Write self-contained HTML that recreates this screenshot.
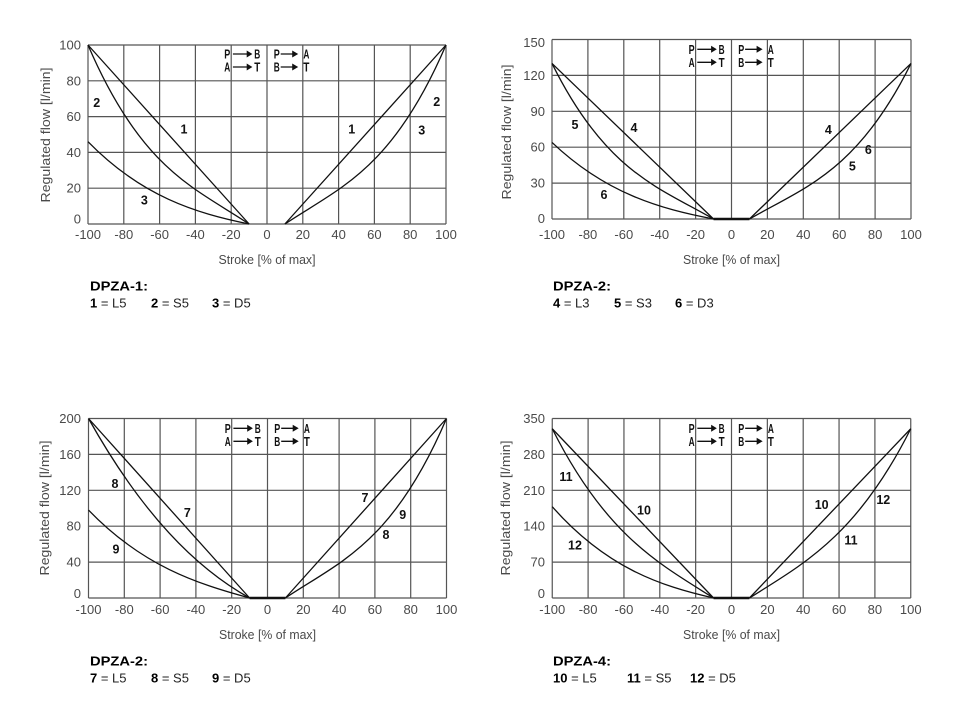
<!DOCTYPE html>
<html>
<head>
<meta charset="utf-8">
<style>
html,body{margin:0;padding:0;background:#fff;}
svg{display:block;}
.g{fill:none;stroke:#555;stroke-width:1.2;vector-effect:non-scaling-stroke;}
.c{fill:none;stroke:#111;stroke-width:1.3;vector-effect:non-scaling-stroke;}
.z{fill:none;stroke:#111;stroke-width:2.4;vector-effect:non-scaling-stroke;}
.t{font-family:"Liberation Sans",Arial,sans-serif;font-size:13px;fill:#4a4a4a;}
.tx{text-anchor:middle;}
.ty{text-anchor:end;}
.lb{font-family:"Liberation Sans",Arial,sans-serif;font-size:12.5px;font-weight:bold;fill:#111;text-anchor:middle;}
.lg{font-family:"Liberation Sans",Arial,sans-serif;font-size:13px;font-weight:bold;fill:#111;}
.cap{font-family:"Liberation Sans",Arial,sans-serif;font-size:13px;fill:#222;}
.b{font-weight:bold;fill:#000;}
</style>
</head>
<body>
<svg width="963" height="724" viewBox="0 0 963 724" xmlns="http://www.w3.org/2000/svg">
<rect width="963" height="724" fill="#fff"/>

<!-- ============ CHART A ============ -->
<g transform="translate(267,224) scale(1.79,-1.79)">
<path class="g" d="M-100,0V100M-80,0V100M-60,0V100M-40,0V100M-20,0V100M0,0V100M20,0V100M40,0V100M60,0V100M80,0V100M100,0V100M-100,0H100M-100,20H100M-100,40H100M-100,60H100M-100,80H100M-100,100H100"/>
<path class="c" d="M-100,100L-10,0M10,0L100,100"/>
<path class="c" d="M-10,0C-40,20 -70,30 -100,100"/>
<path class="c" d="M-10,0C-40,6.13 -70,15.33 -100,46"/>
<path class="c" d="M10,0C40,20 70,30 100,100"/>
</g>
<g class="t tx">
<text x="88" y="239">-100</text><text x="123.8" y="239">-80</text><text x="159.6" y="239">-60</text><text x="195.4" y="239">-40</text><text x="231.2" y="239">-20</text><text x="267" y="239">0</text><text x="302.8" y="239">20</text><text x="338.6" y="239">40</text><text x="374.4" y="239">60</text><text x="410.2" y="239">80</text><text x="446" y="239">100</text>
</g>
<g class="t ty">
<text x="81" y="49.5">100</text><text x="81" y="85.3">80</text><text x="81" y="121.1">60</text><text x="81" y="156.9">40</text><text x="81" y="192.7">20</text><text x="81" y="223.5">0</text>
</g>
<text class="t tx" x="267" y="264" textLength="97" lengthAdjust="spacingAndGlyphs">Stroke [% of max]</text>
<text class="t tx" transform="translate(50,135) rotate(-90)" textLength="135" lengthAdjust="spacingAndGlyphs">Regulated flow [l/min]</text>
<g class="lb">
<text x="96.7" y="106.8">2</text><text x="184" y="133.5">1</text><text x="144.3" y="204.5">3</text>
<text x="351.7" y="133.5">1</text><text x="421.7" y="134.5">3</text><text x="436.7" y="106.2">2</text>
</g>
<g transform="translate(231.2,54)">
<g class="lg">
<text x="-7" y="4.7" textLength="6" lengthAdjust="spacingAndGlyphs">P</text>
<text x="23" y="4.7" textLength="6" lengthAdjust="spacingAndGlyphs">B</text>
<text x="42.6" y="4.7" textLength="6" lengthAdjust="spacingAndGlyphs">P</text>
<text x="72.2" y="4.7" textLength="6" lengthAdjust="spacingAndGlyphs">A</text>
<text x="-7" y="17.7" textLength="6" lengthAdjust="spacingAndGlyphs">A</text>
<text x="23" y="17.7" textLength="6" lengthAdjust="spacingAndGlyphs">T</text>
<text x="42.6" y="17.7" textLength="6" lengthAdjust="spacingAndGlyphs">B</text>
<text x="72.2" y="17.7" textLength="6" lengthAdjust="spacingAndGlyphs">T</text>
</g>
<path d="M1.7,0H16.5M1.7,13H16.5M49.5,0H62M49.5,13H62" stroke="#111" stroke-width="1.3" fill="none"/>
<path d="M15.5,-3.5L21.2,0L15.5,3.5ZM15.5,9.5L21.2,13L15.5,16.5ZM61,-3.5L67,0L61,3.5ZM61,9.5L67,13L61,16.5Z" fill="#111"/>
</g>
<text class="cap b" x="90" y="290.7" font-size="13.5" textLength="58" lengthAdjust="spacingAndGlyphs">DPZA-1:</text>
<text class="cap" x="90" y="307.3"><tspan class="b">1</tspan> = L5</text>
<text class="cap" x="151" y="307.3"><tspan class="b">2</tspan> = S5</text>
<text class="cap" x="212" y="307.3"><tspan class="b">3</tspan> = D5</text>

<!-- ============ CHART B ============ -->
<g transform="translate(731.5,219) scale(1.795,-1.1967)">
<path class="g" d="M-100,0V150M-80,0V150M-60,0V150M-40,0V150M-20,0V150M0,0V150M20,0V150M40,0V150M60,0V150M80,0V150M100,0V150M-100,0H100M-100,30H100M-100,60H100M-100,90H100M-100,120H100M-100,150H100"/>
<path class="z" d="M-10,0H10"/>
<path class="c" d="M-100,130L-10,0M10,0L100,130"/>
<path class="c" d="M-10,0C-40,26 -70,39 -100,130"/>
<path class="c" d="M-10,0C-40,8.53 -70,21.33 -100,64"/>
<path class="c" d="M10,0C40,26 70,39 100,130"/>
</g>
<g class="t tx">
<text x="552" y="239">-100</text><text x="587.9" y="239">-80</text><text x="623.8" y="239">-60</text><text x="659.7" y="239">-40</text><text x="695.6" y="239">-20</text><text x="731.5" y="239">0</text><text x="767.4" y="239">20</text><text x="803.3" y="239">40</text><text x="839.2" y="239">60</text><text x="875.1" y="239">80</text><text x="911" y="239">100</text>
</g>
<g class="t ty">
<text x="545" y="47.2">150</text><text x="545" y="79.9">120</text><text x="545" y="115.8">90</text><text x="545" y="151.7">60</text><text x="545" y="187.6">30</text><text x="545" y="222.8">0</text>
</g>
<text class="t tx" x="731.5" y="264" textLength="97" lengthAdjust="spacingAndGlyphs">Stroke [% of max]</text>
<text class="t tx" transform="translate(511,132) rotate(-90)" textLength="135" lengthAdjust="spacingAndGlyphs">Regulated flow [l/min]</text>
<g class="lb">
<text x="575" y="128.8">5</text><text x="634" y="132.2">4</text><text x="604" y="198.8">6</text>
<text x="828.3" y="133.8">4</text><text x="868.3" y="153.8">6</text><text x="852.3" y="170.5">5</text>
</g>
<g transform="translate(695.6,49.3)">
<g class="lg">
<text x="-7" y="4.7" textLength="6" lengthAdjust="spacingAndGlyphs">P</text>
<text x="23" y="4.7" textLength="6" lengthAdjust="spacingAndGlyphs">B</text>
<text x="42.6" y="4.7" textLength="6" lengthAdjust="spacingAndGlyphs">P</text>
<text x="72.2" y="4.7" textLength="6" lengthAdjust="spacingAndGlyphs">A</text>
<text x="-7" y="17.7" textLength="6" lengthAdjust="spacingAndGlyphs">A</text>
<text x="23" y="17.7" textLength="6" lengthAdjust="spacingAndGlyphs">T</text>
<text x="42.6" y="17.7" textLength="6" lengthAdjust="spacingAndGlyphs">B</text>
<text x="72.2" y="17.7" textLength="6" lengthAdjust="spacingAndGlyphs">T</text>
</g>
<path d="M1.7,0H16.5M1.7,13H16.5M49.5,0H62M49.5,13H62" stroke="#111" stroke-width="1.3" fill="none"/>
<path d="M15.5,-3.5L21.2,0L15.5,3.5ZM15.5,9.5L21.2,13L15.5,16.5ZM61,-3.5L67,0L61,3.5ZM61,9.5L67,13L61,16.5Z" fill="#111"/>
</g>
<text class="cap b" x="553" y="290.7" font-size="13.5" textLength="58" lengthAdjust="spacingAndGlyphs">DPZA-2:</text>
<text class="cap" x="553" y="307.3"><tspan class="b">4</tspan> = L3</text>
<text class="cap" x="614" y="307.3"><tspan class="b">5</tspan> = S3</text>
<text class="cap" x="675" y="307.3"><tspan class="b">6</tspan> = D3</text>

<!-- ============ CHART C ============ -->
<g transform="translate(267.5,598) scale(1.79,-0.8975)">
<path class="g" d="M-100,0V200M-80,0V200M-60,0V200M-40,0V200M-20,0V200M0,0V200M20,0V200M40,0V200M60,0V200M80,0V200M100,0V200M-100,0H100M-100,40H100M-100,80H100M-100,120H100M-100,160H100M-100,200H100"/>
<path class="z" d="M-10,0H10"/>
<path class="c" d="M-100,200L-10,0M10,0L100,200"/>
<path class="c" d="M-10,0C-40,33.3 -70,93.3 -100,200"/>
<path class="c" d="M-10,0C-40,16.3 -70,35.9 -100,98"/>
<path class="c" d="M10,0C40,40 70,60 100,200"/>
</g>
<g class="t tx">
<text x="88.5" y="614">-100</text><text x="124.3" y="614">-80</text><text x="160.1" y="614">-60</text><text x="195.9" y="614">-40</text><text x="231.7" y="614">-20</text><text x="267.5" y="614">0</text><text x="303.3" y="614">20</text><text x="339.1" y="614">40</text><text x="374.9" y="614">60</text><text x="410.7" y="614">80</text><text x="446.5" y="614">100</text>
</g>
<g class="t ty">
<text x="81" y="423">200</text><text x="81" y="458.9">160</text><text x="81" y="494.8">120</text><text x="81" y="530.7">80</text><text x="81" y="566.6">40</text><text x="81" y="597.8">0</text>
</g>
<text class="t tx" x="267.5" y="639" textLength="97" lengthAdjust="spacingAndGlyphs">Stroke [% of max]</text>
<text class="t tx" transform="translate(49,508) rotate(-90)" textLength="135" lengthAdjust="spacingAndGlyphs">Regulated flow [l/min]</text>
<g class="lb">
<text x="115" y="487.8">8</text><text x="187.3" y="516.8">7</text><text x="116" y="553.5">9</text>
<text x="365" y="502.2">7</text><text x="402.7" y="518.8">9</text><text x="386" y="538.8">8</text>
</g>
<g transform="translate(231.7,428.3)">
<g class="lg">
<text x="-7" y="4.7" textLength="6" lengthAdjust="spacingAndGlyphs">P</text>
<text x="23" y="4.7" textLength="6" lengthAdjust="spacingAndGlyphs">B</text>
<text x="42.6" y="4.7" textLength="6" lengthAdjust="spacingAndGlyphs">P</text>
<text x="72.2" y="4.7" textLength="6" lengthAdjust="spacingAndGlyphs">A</text>
<text x="-7" y="17.7" textLength="6" lengthAdjust="spacingAndGlyphs">A</text>
<text x="23" y="17.7" textLength="6" lengthAdjust="spacingAndGlyphs">T</text>
<text x="42.6" y="17.7" textLength="6" lengthAdjust="spacingAndGlyphs">B</text>
<text x="72.2" y="17.7" textLength="6" lengthAdjust="spacingAndGlyphs">T</text>
</g>
<path d="M1.7,0H16.5M1.7,13H16.5M49.5,0H62M49.5,13H62" stroke="#111" stroke-width="1.3" fill="none"/>
<path d="M15.5,-3.5L21.2,0L15.5,3.5ZM15.5,9.5L21.2,13L15.5,16.5ZM61,-3.5L67,0L61,3.5ZM61,9.5L67,13L61,16.5Z" fill="#111"/>
</g>
<text class="cap b" x="90" y="665.7" font-size="13.5" textLength="58" lengthAdjust="spacingAndGlyphs">DPZA-2:</text>
<text class="cap" x="90" y="682.3"><tspan class="b">7</tspan> = L5</text>
<text class="cap" x="151" y="682.3"><tspan class="b">8</tspan> = S5</text>
<text class="cap" x="212" y="682.3"><tspan class="b">9</tspan> = D5</text>

<!-- ============ CHART D ============ -->
<g transform="translate(731.5,598) scale(1.7925,-0.51286)">
<path class="g" d="M-100,0V350M-80,0V350M-60,0V350M-40,0V350M-20,0V350M0,0V350M20,0V350M40,0V350M60,0V350M80,0V350M100,0V350M-100,0H100M-100,70H100M-100,140H100M-100,210H100M-100,280H100M-100,350H100"/>
<path class="z" d="M-10,0H10"/>
<path class="c" d="M-100,330L-10,0M10,0L100,330"/>
<path class="c" d="M-10,0C-40,66 -70,121 -100,330"/>
<path class="c" d="M-10,0C-40,23.7 -70,59.3 -100,178"/>
<path class="c" d="M10,0C40,66 70,121 100,330"/>
</g>
<g class="t tx">
<text x="552.25" y="614">-100</text><text x="588.1" y="614">-80</text><text x="623.95" y="614">-60</text><text x="659.8" y="614">-40</text><text x="695.65" y="614">-20</text><text x="731.5" y="614">0</text><text x="767.35" y="614">20</text><text x="803.2" y="614">40</text><text x="839.05" y="614">60</text><text x="874.9" y="614">80</text><text x="910.75" y="614">100</text>
</g>
<g class="t ty">
<text x="545" y="423">350</text><text x="545" y="458.9">280</text><text x="545" y="494.8">210</text><text x="545" y="530.7">140</text><text x="545" y="566.6">70</text><text x="545" y="597.8">0</text>
</g>
<text class="t tx" x="731.5" y="639" textLength="97" lengthAdjust="spacingAndGlyphs">Stroke [% of max]</text>
<text class="t tx" transform="translate(510,508) rotate(-90)" textLength="135" lengthAdjust="spacingAndGlyphs">Regulated flow [l/min]</text>
<g class="lb">
<text x="566" y="481.2">11</text><text x="644" y="514.5">10</text><text x="575" y="549.5">12</text>
<text x="821.7" y="508.8">10</text><text x="883.3" y="503.8">12</text><text x="851" y="544.5">11</text>
</g>
<g transform="translate(695.65,428.3)">
<g class="lg">
<text x="-7" y="4.7" textLength="6" lengthAdjust="spacingAndGlyphs">P</text>
<text x="23" y="4.7" textLength="6" lengthAdjust="spacingAndGlyphs">B</text>
<text x="42.6" y="4.7" textLength="6" lengthAdjust="spacingAndGlyphs">P</text>
<text x="72.2" y="4.7" textLength="6" lengthAdjust="spacingAndGlyphs">A</text>
<text x="-7" y="17.7" textLength="6" lengthAdjust="spacingAndGlyphs">A</text>
<text x="23" y="17.7" textLength="6" lengthAdjust="spacingAndGlyphs">T</text>
<text x="42.6" y="17.7" textLength="6" lengthAdjust="spacingAndGlyphs">B</text>
<text x="72.2" y="17.7" textLength="6" lengthAdjust="spacingAndGlyphs">T</text>
</g>
<path d="M1.7,0H16.5M1.7,13H16.5M49.5,0H62M49.5,13H62" stroke="#111" stroke-width="1.3" fill="none"/>
<path d="M15.5,-3.5L21.2,0L15.5,3.5ZM15.5,9.5L21.2,13L15.5,16.5ZM61,-3.5L67,0L61,3.5ZM61,9.5L67,13L61,16.5Z" fill="#111"/>
</g>
<text class="cap b" x="553" y="665.7" font-size="13.5" textLength="58" lengthAdjust="spacingAndGlyphs">DPZA-4:</text>
<text class="cap" x="553" y="682.3"><tspan class="b">10</tspan> = L5</text>
<text class="cap" x="627" y="682.3"><tspan class="b">11</tspan> = S5</text>
<text class="cap" x="690" y="682.3"><tspan class="b">12</tspan> = D5</text>
</svg>
</body>
</html>
